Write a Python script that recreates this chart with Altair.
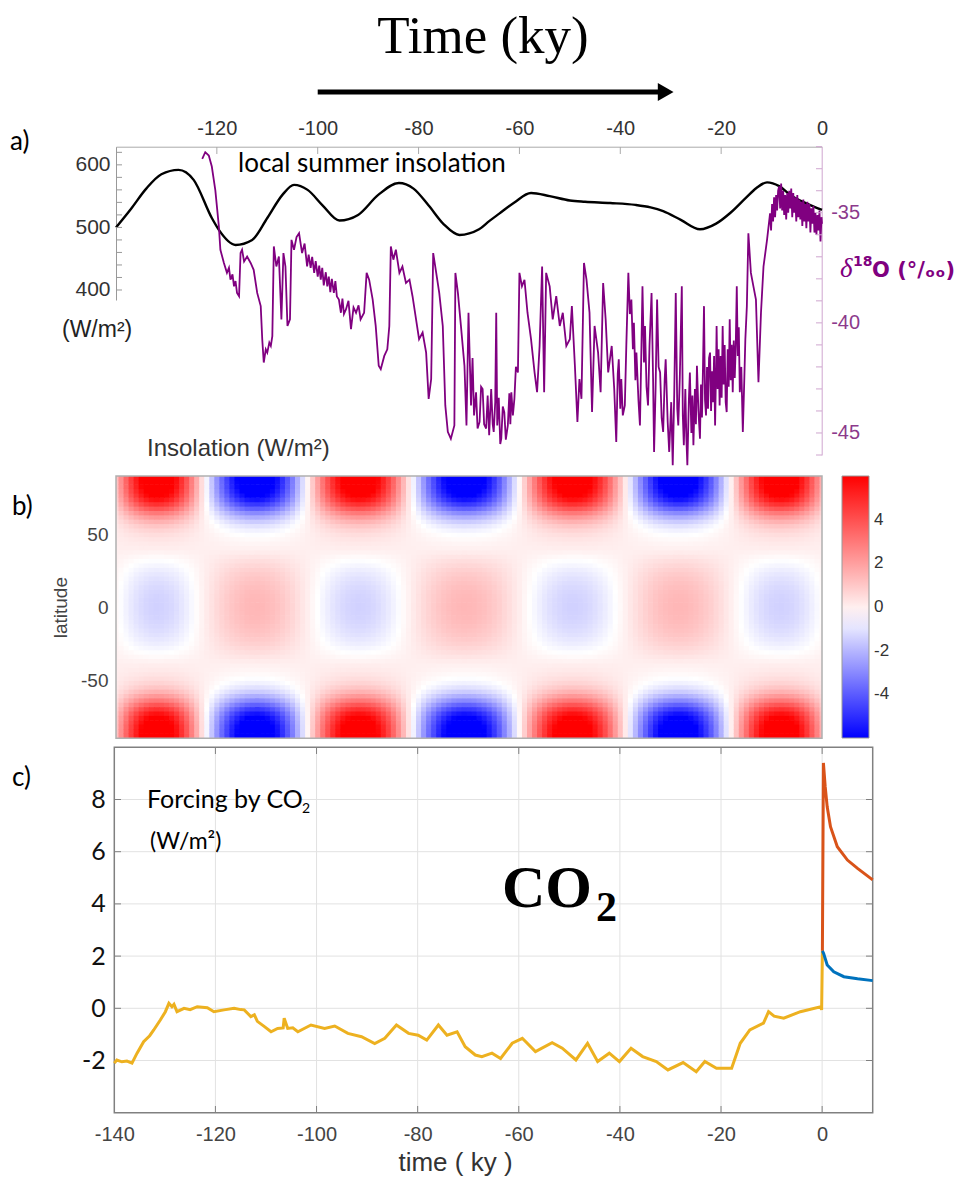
import altair as alt
import pandas as pd

# ---------------- data ----------------
# panel a: local summer insolation (W/m2)
T_INS = [-140, -137, -134, -131, -127.6, -124.6, -121, -119.6, -116.3, -113, -110, -107, -104.7,
         -102, -99, -95.7, -92, -88, -83.9, -81, -78, -75, -71.9, -68, -66, -64, -61, -57.7,
         -54, -50, -47, -42, -37, -34, -31.5, -28, -24.2, -21, -18.2, -15, -13, -10.9, -8.5,
         -6.3, -3, 0]
INS = [500, 530, 562, 585, 592, 576, 515, 496, 472, 480, 515, 552, 568,
       560, 535, 511, 520, 552, 571, 562, 535, 505, 488, 497, 510, 522, 540, 555,
       550, 543, 541, 539, 536, 532, 526, 512, 497, 506, 523, 548, 563, 572, 566,
       552, 538, 528]

# panel a: delta18O record, (time ky, per mil) pairs
D18O_POINTS = [
    (-122.9, -32.55), (-122.3, -32.25), (-121.6, -32.40), (-121.0, -32.90), (-120.3, -33.98), (-119.6, -35.63),
    (-119.3, -36.68), (-118.6, -37.28), (-118.0, -37.73), (-117.6, -37.50), (-117.3, -38.04), (-116.9, -37.80),
    (-116.6, -38.34), (-116.3, -38.10), (-116.0, -38.64), (-115.6, -38.79), (-115.3, -36.83), (-115.0, -36.68),
    (-114.6, -37.21), (-114.0, -36.99), (-113.3, -37.28), (-112.7, -37.59), (-112.0, -38.64), (-111.3, -39.24),
    (-111.0, -40.74), (-110.7, -41.80), (-110.3, -41.20), (-110.0, -41.35), (-109.6, -40.90), (-109.3, -41.05),
    (-109.0, -40.60), (-108.7, -36.53), (-108.2, -37.44), (-107.7, -36.99), (-107.2, -39.84), (-106.8, -36.83),
    (-106.4, -37.44), (-106.0, -40.14), (-105.5, -39.84), (-105.2, -36.23), (-104.7, -36.68), (-104.2, -36.10),
    (-103.7, -35.93), (-103.1, -36.83), (-102.6, -36.40),
    (-102.1, -37.44), (-101.8, -36.90), (-101.4, -37.50), (-101.1, -37.00), (-100.7, -37.73), (-100.4, -37.20),
    (-100.0, -37.90), (-99.7, -37.40), (-99.4, -38.04), (-99.1, -37.50), (-98.8, -38.30), (-98.4, -37.70),
    (-98.1, -38.34), (-97.8, -37.90), (-97.5, -38.60), (-97.2, -38.00), (-96.8, -38.64), (-96.5, -38.10),
    (-96.2, -38.80), (-95.8, -38.94), (-95.4, -39.54), (-95.1, -38.90), (-94.8, -39.60), (-94.4, -39.39),
    (-93.9, -39.00), (-93.4, -40.29), (-92.9, -39.30), (-92.4, -39.54), (-91.9, -39.20), (-91.5, -39.84),
    (-90.8, -39.54), (-90.3, -37.73), (-89.8, -38.04), (-89.1, -38.94), (-88.5, -40.14), (-87.9, -41.95),
    (-87.5, -42.10), (-86.8, -41.50), (-86.2, -41.20), (-85.8, -40.14), (-85.5, -36.53), (-85.0, -37.13),
    (-84.5, -36.68), (-83.8, -37.73), (-83.2, -37.44), (-82.5, -38.19), (-81.8, -38.04), (-81.2, -38.79),
    (-80.5, -39.84), (-79.9, -40.74), (-79.2, -40.44), (-78.5, -41.35), (-78.0, -43.45), (-77.5, -42.55),
    (-77.1, -36.83), (-76.5, -37.73), (-75.9, -38.64), (-75.2, -40.14), (-74.7, -43.75), (-74.2, -44.95),
    (-73.6, -45.26), (-72.9, -44.66), (-72.7, -37.73), (-72.2, -38.64), (-71.6, -40.14), (-70.9, -41.95),
    (-70.5, -44.66), (-70.1, -39.54),
    (-69.6, -43.75), (-69.3, -41.60), (-69.0, -44.20), (-68.6, -43.15), (-68.3, -44.80), (-67.9, -44.50),
    (-67.6, -42.90), (-67.3, -43.00), (-67.0, -44.60), (-66.6, -44.80), (-66.3, -43.30), (-66.0, -45.10),
    (-65.6, -43.00), (-65.3, -44.60), (-65.1, -44.95), (-64.8, -43.60), (-64.6, -39.54), (-64.4, -44.66),
    (-64.1, -43.40), (-63.8, -45.50), (-63.6, -45.26), (-63.3, -43.80), (-63.0, -44.05), (-62.7, -45.30),
    (-62.3, -44.66), (-62.0, -43.20), (-61.8, -44.60), (-61.6, -43.15), (-61.3, -44.20), (-61.0, -43.45),
    (-60.7, -42.00), (-60.3, -42.25), (-60.0, -37.73),
    (-59.5, -38.34), (-59.0, -38.04), (-58.4, -39.54), (-57.7, -40.74), (-57.0, -42.25), (-56.5, -43.15),
    (-56.0, -41.05), (-55.5, -37.44), (-55.1, -43.15), (-54.7, -37.73), (-54.0, -38.34), (-53.4, -39.84),
    (-52.7, -38.79), (-52.0, -40.14), (-51.4, -39.54), (-50.7, -41.05), (-50.0, -40.74), (-49.6, -39.24),
    (-49.0, -41.95), (-48.5, -44.50), (-48.1, -42.55), (-47.7, -43.45), (-47.2, -37.28), (-46.7, -38.04),
    (-46.1, -39.54), (-45.6, -44.05), (-45.1, -40.14), (-44.4, -41.35), (-43.9, -43.15), (-43.4, -38.19),
    (-42.9, -39.84), (-42.4, -42.25), (-41.7, -41.05), (-41.2, -43.00),
    (-40.8, -45.41), (-40.5, -42.30), (-40.3, -41.65), (-40.0, -43.90), (-39.8, -42.55), (-39.5, -44.20),
    (-39.1, -43.75), (-38.8, -41.00), (-38.4, -37.73), (-38.1, -39.60), (-37.8, -38.94), (-37.5, -41.20),
    (-37.3, -40.00), (-37.0, -42.60), (-36.8, -41.35), (-36.4, -43.50), (-36.1, -44.66), (-35.8, -41.00),
    (-35.6, -38.34), (-35.3, -41.80), (-35.1, -40.14), (-34.8, -42.90), (-34.5, -43.75), (-34.2, -41.00),
    (-33.8, -38.64), (-33.5, -42.50), (-33.3, -45.86), (-33.0, -43.00), (-32.7, -38.94), (-32.4, -42.00),
    (-32.1, -42.25), (-31.8, -44.30), (-31.5, -44.95), (-31.2, -42.60), (-31.0, -41.65), (-30.6, -44.50),
    (-30.3, -45.86), (-29.9, -43.60), (-29.6, -46.46), (-29.3, -43.20), (-29.0, -38.64), (-28.7, -43.90),
    (-28.5, -44.66), (-28.2, -42.50), (-27.8, -38.34), (-27.6, -44.20), (-27.4, -45.56), (-27.1, -43.00),
    (-26.9, -45.20), (-26.7, -46.46), (-26.4, -43.50), (-26.2, -42.25), (-25.9, -45.00), (-25.7, -43.30),
    (-25.5, -45.56), (-25.2, -43.00), (-25.0, -44.60), (-24.8, -41.95), (-24.5, -44.00), (-24.2, -45.26),
    (-24.0, -42.80), (-23.8, -44.30), (-23.6, -42.00), (-23.4, -39.24), (-23.2, -43.50), (-23.0, -44.20),
    (-22.8, -42.00), (-22.6, -43.90), (-22.4, -41.60), (-22.2, -41.35), (-22.0, -44.00), (-21.8, -42.20),
    (-21.6, -43.60), (-21.4, -41.50), (-21.2, -44.66), (-21.0, -42.00), (-20.9, -40.14), (-20.7, -43.00),
    (-20.5, -41.20), (-20.3, -43.75), (-20.1, -41.50), (-19.9, -43.40), (-19.7, -40.14), (-19.5, -42.80),
    (-19.3, -41.00), (-19.1, -43.60), (-18.9, -44.05), (-18.7, -41.20), (-18.5, -42.90), (-18.3, -39.84),
    (-18.1, -42.60), (-17.9, -41.00), (-17.7, -43.15), (-17.5, -40.80), (-17.3, -42.50), (-17.1, -41.00),
    (-16.9, -38.34), (-16.7, -41.50), (-16.5, -40.20), (-16.3, -43.15), (-16.0, -42.00), (-15.7, -44.95),
    (-15.4, -42.50), (-15.2, -40.74), (-14.9, -39.24),
    (-14.6, -35.93), (-14.1, -37.73), (-13.6, -38.34), (-13.1, -38.94), (-12.6, -42.70), (-12.1, -39.54),
    (-11.6, -37.44), (-10.9, -36.23),
    (-10.3, -35.03), (-10.1, -35.80), (-9.9, -34.60), (-9.7, -35.40), (-9.5, -34.30), (-9.3, -35.20),
    (-9.1, -34.20), (-8.9, -34.90), (-8.7, -34.00), (-8.5, -33.80), (-8.3, -34.80), (-8.1, -33.67),
    (-7.9, -34.90), (-7.7, -34.00), (-7.5, -35.10), (-7.3, -34.20), (-7.1, -35.30), (-6.9, -34.10),
    (-6.7, -35.00), (-6.5, -34.00), (-6.3, -34.80), (-6.1, -33.90), (-5.9, -35.20), (-5.7, -34.10),
    (-5.5, -35.00), (-5.3, -34.30), (-5.1, -35.40), (-4.9, -34.20), (-4.7, -35.20), (-4.5, -34.40),
    (-4.3, -35.30), (-4.1, -34.50), (-3.9, -35.60), (-3.7, -34.40), (-3.5, -35.40), (-3.3, -34.60),
    (-3.1, -35.70), (-2.9, -34.50), (-2.7, -35.40), (-2.5, -34.60), (-2.3, -35.90), (-2.1, -34.80),
    (-1.9, -35.50), (-1.7, -34.70), (-1.5, -35.90), (-1.3, -35.00), (-1.1, -36.00), (-0.9, -35.10),
    (-0.7, -35.80), (-0.5, -34.90), (-0.3, -36.30), (-0.1, -35.20), (0.0, -35.50),
]

# panel b: obliquity-type insolation anomaly, time profile and latitude profile
HEAT_TIME = list(range(-140, 1))
HEAT_AMP = [0.17, 0.34, 0.49, 0.63, 0.75, 0.85, 0.93, 0.98, 1.00, 0.99, 0.95, 0.89, 0.80, 0.68, 0.55, 0.40, 0.24, 0.07,
            -0.09, -0.24, -0.39, -0.52, -0.64, -0.75, -0.84, -0.91, -0.97, -0.99, -1.00, -0.98, -0.94, -0.88, -0.80,
            -0.70, -0.58, -0.46, -0.31, -0.17, -0.02,
            0.14, 0.29, 0.44, 0.57, 0.69, 0.79, 0.88, 0.94, 0.98, 1.00, 0.99, 0.96, 0.91, 0.83, 0.73, 0.62, 0.49,
            0.35, 0.20, 0.05,
            -0.10, -0.24, -0.38, -0.51, -0.62, -0.73, -0.82, -0.89, -0.95, -0.98, -1.00, -0.99, -0.97, -0.92, -0.86,
            -0.78, -0.68, -0.57, -0.44, -0.31, -0.17, -0.03,
            0.12, 0.27, 0.41, 0.54, 0.66, 0.77, 0.85, 0.92, 0.97, 1.00, 1.00, 0.98, 0.94, 0.88, 0.79, 0.69, 0.58,
            0.45, 0.31, 0.17, 0.02,
            -0.14, -0.28, -0.42, -0.55, -0.67, -0.78, -0.86, -0.93, -0.97, -1.00, -1.00, -0.98, -0.93, -0.87, -0.78,
            -0.68, -0.57, -0.44, -0.30, -0.15,
            0.00, 0.16, 0.32, 0.46, 0.60, 0.72, 0.82, 0.90, 0.96, 0.99, 1.00, 0.98, 0.94, 0.87, 0.77, 0.66, 0.53,
            0.39, 0.24]
LAT_ABS = [1.5, 4.5, 7.5, 10.5, 13.5, 16.5, 19.5, 22.5, 25.5, 28.5, 31.5, 34.5, 37.5, 40.5, 43.5,
           46.5, 49.5, 52.5, 55.5, 58.5, 61.5, 64.5, 67.5, 70.5, 73.5, 76.5, 79.5, 82.5, 85.5, 88.5]
LAT_PROFILE = [-1.40, -1.39, -1.36, -1.31, -1.24, -1.15, -1.05, -0.93, -0.79, -0.62, -0.45, -0.27, -0.09, 0.05, 0.15,
               0.28, 0.45, 0.70, 1.05, 1.55, 2.2, 3.0, 3.9, 4.8, 5.6, 6.2, 6.6, 6.9, 7.0, 7.1]

# panel c: forcing by CO2 (W/m2)
T_CO2 = [-140, -139.5, -138.5, -137.5, -136.5, -135.5, -134.2, -133, -132.2, -130.9, -129.9, -129.2, -128.6,
         -128.2, -127.6, -126.2, -125, -123.6, -121.6, -120.3, -118.3, -116.3, -115, -114.3, -113.6, -113,
         -112.3, -111.7, -110.3, -109, -107.7, -106.6, -106.4, -105.7, -104.7, -103.7, -101.1, -98.4, -96.4,
         -93.8, -91.1, -88.5, -86.5, -84.2, -81.8, -79.9, -78.2, -75.9, -74.2, -72.2, -70.6, -68.6, -67.3,
         -65.3, -63.6, -61.3, -59.3, -56.7, -53.4, -51.4, -48.7, -46.4, -44.4, -42.1, -40.1, -37.8, -35.5,
         -32.8, -30.5, -27.5, -24.9, -23.2, -20.9, -17.9, -16.2, -14.3, -11.6, -10.6, -9.5, -7.6, -4.3, -0.3,
         -0.1, 0.05]
CO2 = [-2.10, -1.98, -2.05, -2.02, -2.10, -1.72, -1.28, -1.05, -0.83, -0.45, -0.13, 0.19, 0.06,
       0.15, -0.13, 0.00, -0.05, 0.06, 0.02, -0.13, -0.06, 0.00, -0.05, -0.06, -0.20, -0.32,
       -0.25, -0.50, -0.70, -0.90, -0.77, -0.75, -0.38, -0.77, -0.75, -0.90, -0.64, -0.77, -0.68,
       -0.96, -1.09, -1.35, -1.15, -0.64, -0.96, -1.03, -1.22, -0.64, -1.03, -0.90, -1.47, -1.79, -1.85,
       -1.72, -1.92, -1.34, -1.15, -1.66, -1.32, -1.53, -1.98, -1.34, -2.04, -1.72, -2.04, -1.53, -1.85,
       -2.04, -2.36, -2.08, -2.43, -2.04, -2.30, -2.30, -1.34, -0.83, -0.57, -0.13, -0.30, -0.38, -0.13, 0.06,
       -0.06, 2.20]
T_CO2_HIGH = [0.05, 0.25, 0.6, 1.0, 1.65, 3.0, 5.0, 7.0, 10.0]
CO2_HIGH = [2.20, 9.40, 8.50, 7.72, 6.96, 6.19, 5.68, 5.36, 4.92]
T_CO2_LOW = [0.05, 0.3, 1.0, 2.3, 4.3, 7.0, 10.0]
CO2_LOW = [2.20, 2.10, 1.66, 1.40, 1.21, 1.13, 1.06]

TIME_TICKS_A = [-120, -100, -80, -60, -40, -20, 0]
TIME_TICKS_C = [-140, -120, -100, -80, -60, -40, -20, 0]
INS_TICKS = [400, 420, 440, 460, 480, 500, 520, 540, 560, 580, 600, 620]
D18O_TICKS = list(range(-46, -31))
LAT_TICKS = [-50, 0, 50]
CO2_TICKS = [-2, 0, 2, 4, 6, 8]
CBAR_TICKS = [-4, -2, 0, 2, 4]

# ---------------- tables ----------------
ins_df = pd.DataFrame({"t": T_INS, "v": INS})
d18_df = pd.DataFrame(D18O_POINTS, columns=["t", "v"])
co2_df = pd.DataFrame({"t": T_CO2, "v": CO2})
co2h_df = pd.DataFrame({"t": T_CO2_HIGH, "v": CO2_HIGH})
co2l_df = pd.DataFrame({"t": T_CO2_LOW, "v": CO2_LOW})

rows = []
for t, a in zip(HEAT_TIME, HEAT_AMP):
    for la, p in zip(LAT_ABS, LAT_PROFILE):
        for s in (1, -1):
            lat = s * la
            rows.append({
                "t0": max(t - 0.5, -140), "t1": min(t + 0.7, 0),
                "lat0": lat - 1.5, "lat1": min(lat + 1.9, 90),
                "v": a * p,
            })
heat_df = pd.DataFrame(rows)
ONE = pd.DataFrame({"k": [0]})
tA_df = pd.DataFrame({"t": TIME_TICKS_A[:-1]})
tC_df = pd.DataFrame({"t": TIME_TICKS_C[1:]})
ins_t_df = pd.DataFrame({"v": INS_TICKS})
d18_t_df = pd.DataFrame({"v": D18O_TICKS})
co2_t_df = pd.DataFrame({"v": CO2_TICKS})

# ---------------- scales (pixel ranges on a single canvas) ----------------
SX_A = alt.Scale(domain=[-140, 0], range=[116, 822], nice=False, zero=False)
SX_C = alt.Scale(domain=[-140, 10], range=[114.3, 872.7], nice=False, zero=False)
SY_INS = alt.Scale(domain=[384, 629], range=[300, 146.7], nice=False, zero=False)
SY_D18 = alt.Scale(domain=[-46, -32], range=[455, 146.7], nice=False, zero=False)
SY_LAT = alt.Scale(domain=[-90, 90], range=[738.3, 476], nice=False, zero=False)
SY_CO2 = alt.Scale(domain=[-4, 10], range=[1112.7, 747.3], nice=False, zero=False)
S_COL = alt.Scale(domain=[-6, -0.4, 6], range=["#0000ff", "#ffffff", "#ff0000"],
                  clamp=True, interpolate="rgb")

SANS = "Liberation Sans"
CAL = "Lato"
PURPLE = "#800080"
LBL = "'' + datum.value"
GRID = "#e2e2e2"

# ---------------- panel b: heat map ----------------
heat = alt.Chart(heat_df).mark_rect().encode(
    x=alt.X("t0:Q", scale=SX_A, axis=None),
    x2="t1:Q",
    y=alt.Y("lat0:Q", scale=SY_LAT, axis=alt.Axis(
        orient="left", offset=-116, values=LAT_TICKS, labelExpr=LBL, domain=False,
        tickSize=0, labelPadding=8, labelFont=SANS, labelFontSize=19, labelColor="#444",
        grid=False, title="latitude", titleFont=SANS, titleFontSize=19, titleFontWeight="normal",
        titleColor="#444", titlePadding=10)),
    y2="lat1:Q",
    color=alt.Color("v:Q", scale=S_COL, legend=alt.Legend(
        orient="none", legendX=842, legendY=476, direction="vertical", gradientLength=262,
        gradientThickness=27, values=CBAR_TICKS, labelExpr=LBL, title=None,
        labelFont=SANS, labelFontSize=17, labelColor="#333", labelOffset=5,
        gradientStrokeColor="#999", gradientStrokeWidth=1)),
)
heat_frame = alt.Chart(ONE).mark_rect(fill=None, stroke="#b0b0b0", strokeWidth=1.5).encode(
    x=alt.XDatum(-140, type="quantitative", scale=SX_A, axis=None),
    x2=alt.X2Datum(0),
    y=alt.YDatum(-90, type="quantitative", scale=SY_LAT, axis=None),
    y2=alt.Y2Datum(90),
)

# ---------------- panel a ----------------
ins_line = alt.Chart(ins_df).mark_line(color="black", strokeWidth=2.4, interpolate="monotone").encode(
    x=alt.X("t:Q", scale=SX_A, axis=alt.Axis(
        orient="top", offset=-146.7, values=TIME_TICKS_A, labelExpr=LBL, labelFlush=False,
        grid=False, title=None, domainColor="#aaa", tickSize=0, labelPadding=8,
        labelFont=SANS, labelFontSize=20, labelColor="#333")),
    y=alt.Y("v:Q", scale=SY_INS, axis=alt.Axis(
        orient="left", offset=-116, values=INS_TICKS,
        labelExpr="datum.value % 100 == 0 ? '' + datum.value : ''", grid=False, title=None,
        domainColor="#999", tickSize=0, labelPadding=6, labelFlush=False,
        labelFont=SANS, labelFontSize=21, labelColor="#333")),
)
d18_line = alt.Chart(d18_df).mark_line(color=PURPLE, strokeWidth=1.8).encode(
    x=alt.X("t:Q", scale=SX_A, axis=None),
    y=alt.Y("v:Q", scale=SY_D18, axis=alt.Axis(
        orient="right", offset=-136.3, values=D18O_TICKS,
        labelExpr="datum.value % 5 == 0 ? '' + datum.value : ''", grid=False, title=None,
        domainColor="#cfa6cf", tickSize=0, labelPadding=9, labelFlush=False,
        labelFont=SANS, labelFontSize=20, labelColor="#8c3a8c")),
)
# inward tick marks of panel a
ticks_a_top = alt.Chart(tA_df).mark_rule(color="#aaa", strokeWidth=1).encode(
    x=alt.X("t:Q", scale=SX_A, axis=None), y=alt.value(147), y2=alt.value(154))
ticks_a_left = alt.Chart(ins_t_df).mark_rule(color="#999", strokeWidth=1).encode(
    y=alt.Y("v:Q", scale=SY_INS, axis=None), x=alt.value(116), x2=alt.value(122))
ticks_a_right = alt.Chart(d18_t_df).mark_rule(color="#cfa6cf", strokeWidth=1).encode(
    y=alt.Y("v:Q", scale=SY_D18, axis=None), x=alt.value(816), x2=alt.value(822))

# ---------------- panel c ----------------
grid_v = alt.Chart(tC_df).mark_rule(color=GRID, strokeWidth=1).encode(
    x=alt.X("t:Q", scale=SX_C, axis=None),
    y=alt.YDatum(-4, type="quantitative", scale=SY_CO2, axis=None), y2=alt.Y2Datum(10))
grid_h = alt.Chart(co2_t_df).mark_rule(color=GRID, strokeWidth=1).encode(
    y=alt.Y("v:Q", scale=SY_CO2, axis=None),
    x=alt.XDatum(-140, type="quantitative", scale=SX_C, axis=None), x2=alt.X2Datum(10))
ticks_c_top = alt.Chart(tC_df).mark_rule(color="#808080", strokeWidth=1).encode(
    x=alt.X("t:Q", scale=SX_C, axis=None), y=alt.value(747.3), y2=alt.value(754))
ticks_c_right = alt.Chart(co2_t_df).mark_rule(color="#808080", strokeWidth=1).encode(
    y=alt.Y("v:Q", scale=SY_CO2, axis=None), x=alt.value(866), x2=alt.value(872.7))
ticks_c_bottom = alt.Chart(tC_df).mark_rule(color="#808080", strokeWidth=1).encode(
    x=alt.X("t:Q", scale=SX_C, axis=None), y=alt.value(1106), y2=alt.value(1112.7))
ticks_c_left = alt.Chart(co2_t_df).mark_rule(color="#808080", strokeWidth=1).encode(
    y=alt.Y("v:Q", scale=SY_CO2, axis=None), x=alt.value(114.3), x2=alt.value(121))
co2_frame = alt.Chart(ONE).mark_rect(fill=None, stroke="#808080", strokeWidth=1.5).encode(
    x=alt.XDatum(-140, type="quantitative", scale=SX_C, axis=None),
    x2=alt.X2Datum(10),
    y=alt.YDatum(-4, type="quantitative", scale=SY_CO2, axis=None),
    y2=alt.Y2Datum(10),
)
co2_line = alt.Chart(co2_df).mark_line(color="#EDB120", strokeWidth=3).encode(
    x=alt.X("t:Q", scale=SX_C, axis=alt.Axis(
        orient="bottom", offset=-72.3, values=TIME_TICKS_C, labelExpr=LBL, labelFlush=False,
        grid=False, domain=False, tickSize=0, labelPadding=12,
        labelFont=SANS, labelFontSize=20, labelColor="#444",
        title="time ( ky )", titleX=455, titleFont=SANS, titleFontSize=26, titleFontWeight="normal",
        titleColor="#333", titlePadding=5)),
    y=alt.Y("v:Q", scale=SY_CO2, axis=alt.Axis(
        orient="left", offset=-114.3, values=CO2_TICKS, labelExpr=LBL, labelFlush=False,
        grid=False, domain=False, tickSize=0, labelPadding=9,
        labelFont=CAL, labelFontSize=25, labelColor="#111", title=None)),
)
co2_high = alt.Chart(co2h_df).mark_line(color="#D95319", strokeWidth=3).encode(
    x=alt.X("t:Q", scale=SX_C, axis=None),
    y=alt.Y("v:Q", scale=SY_CO2, axis=None),
)
co2_low = alt.Chart(co2l_df).mark_line(color="#0072BD", strokeWidth=3).encode(
    x=alt.X("t:Q", scale=SX_C, axis=None),
    y=alt.Y("v:Q", scale=SY_CO2, axis=None),
)


# ---------------- annotations ----------------
def label(text, x, y, size, font, color="black", weight="normal", style="normal", align="left"):
    return alt.Chart(ONE).mark_text(
        text=text, fontSize=size, font=font, color=color, fontWeight=weight,
        fontStyle=style, align=align, baseline="alphabetic",
    ).encode(x=alt.value(x), y=alt.value(y))


arrow_shaft = alt.Chart(ONE).mark_rule(color="black", strokeWidth=5).encode(
    x=alt.XDatum(-100, type="quantitative", scale=SX_A, axis=None),
    x2=alt.X2Datum(-32.5),
    y=alt.value(92),
)
arrow_head = alt.Chart(ONE).mark_point(shape="triangle-right", filled=True, size=330,
                                       color="black", opacity=1).encode(
    x=alt.XDatum(-31, type="quantitative", scale=SX_A, axis=None),
    y=alt.value(92),
)

texts = [
    label("Time (ky)", 483, 53, 53, "Liberation Serif", align="center"),
    label("a)", 10, 150, 26, CAL),
    label("local summer insolation", 238, 172, 26, CAL),
    label("(W/m²)", 62, 337, 23, SANS, color="#222"),
    label("Insolation (W/m²)", 147, 456, 24, SANS, color="#333"),
    label("δ", 840, 277, 27, "Liberation Serif", color=PURPLE, style="italic"),
    label("18", 853, 266, 14, "DejaVu Sans", color=PURPLE, weight="bold"),
    label("O (°/ₒₒ)", 872, 277, 21, "DejaVu Sans", color=PURPLE, weight="bold"),
    label("b)", 12, 515, 26, CAL),
    label("c)", 12, 786, 26, CAL),
    label("Forcing by CO", 147, 808, 25, CAL),
    label("2", 302, 813, 14, CAL),
    label("(W/m²)", 150, 849, 23, CAL),
    label("CO", 502, 907, 60, "Liberation Serif", weight="bold"),
    label("2", 596, 921, 42, "Liberation Serif", weight="bold"),
]

chart = alt.layer(
    heat, heat_frame,
    ins_line, d18_line, ticks_a_top, ticks_a_left, ticks_a_right,
    grid_v, grid_h, ticks_c_top, ticks_c_right, ticks_c_bottom, ticks_c_left, co2_frame,
    co2_line, co2_high, co2_low,
    arrow_shaft, arrow_head, *texts,
).resolve_scale(
    x="independent", y="independent", color="independent"
).properties(
    width=958, height=1185, padding=0, autosize=alt.AutoSizeParams(type="none"),
    background="white",
).configure_view(stroke=None)

chart.save("out.html", embed_options={"renderer": "svg", "actions": False})
